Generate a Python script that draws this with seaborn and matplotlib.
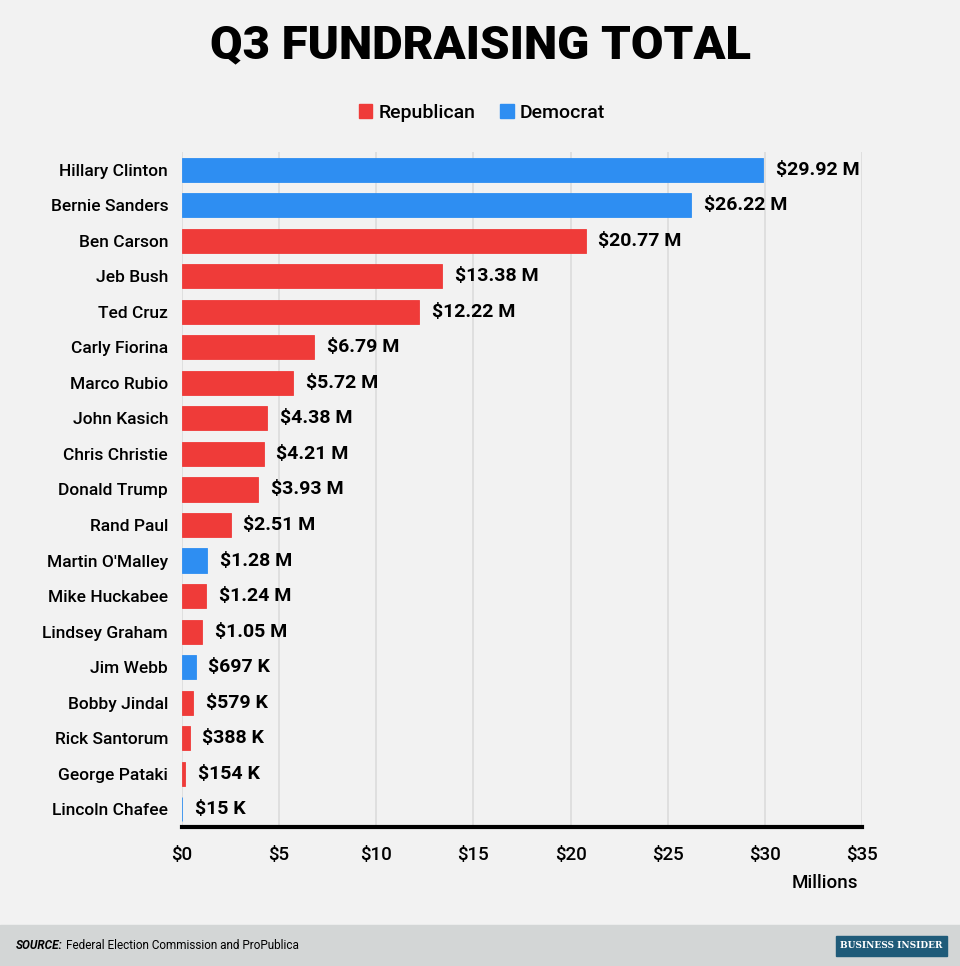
import matplotlib
matplotlib.use('Agg')
import matplotlib.pyplot as plt
import seaborn as sns
import pandas as pd
from matplotlib.patches import Rectangle, Patch

# datos
candidatos = ['Hillary Clinton', 'Bernie Sanders', 'Ben Carson', 'Jeb Bush', 'Ted Cruz',
              'Carly Fiorina', 'Marco Rubio', 'John Kasich', 'Chris Christie', 'Donald Trump',
              'Rand Paul', "Martin O'Malley", 'Mike Huckabee', 'Lindsey Graham', 'Jim Webb',
              'Bobby Jindal', 'Rick Santorum', 'George Pataki', 'Lincoln Chafee']
partido = ['Democrat', 'Democrat', 'Republican', 'Republican', 'Republican',
           'Republican', 'Republican', 'Republican', 'Republican', 'Republican',
           'Republican', 'Democrat', 'Republican', 'Republican', 'Democrat',
           'Republican', 'Republican', 'Republican', 'Democrat']
millones = [29.92, 26.22, 20.77, 13.38, 12.22, 6.79, 5.72, 4.38, 4.21, 3.93,
            2.51, 1.28, 1.24, 1.05, 0.697, 0.579, 0.388, 0.154, 0.015]
etiquetas = ['$29.92 M', '$26.22 M', '$20.77 M', '$13.38 M', '$12.22 M', '$6.79 M',
             '$5.72 M', '$4.38 M', '$4.21 M', '$3.93 M', '$2.51 M', '$1.28 M',
             '$1.24 M', '$1.05 M', '$697 K', '$579 K', '$388 K', '$154 K', '$15 K']
ticks = [0, 5, 10, 15, 20, 25, 30, 35]

df = pd.DataFrame({'Candidato': candidatos, 'Partido': partido, 'Millones': millones})
colores = {'Republican': '#ef3b39', 'Democrat': '#2e8ef2'}

sns.set_style('white')
plt.rcParams['font.family'] = ['Roboto', 'DejaVu Sans']
plt.rcParams['text.color'] = 'black'
plt.rcParams['xtick.color'] = 'black'
plt.rcParams['ytick.color'] = 'black'

fig = plt.figure(figsize=(9.6, 9.66), dpi=100, facecolor='#f2f2f2')
ax = fig.add_axes([0.1896, 0.1439, 0.7083, 0.6988], facecolor='#f2f2f2')

sns.barplot(data=df, x='Millones', y='Candidato', hue='Partido', palette=colores,
            dodge=False, width=0.68, orient='h', legend=False, saturation=1,
            linewidth=0, ax=ax)
for p in ax.patches:
    p.set_edgecolor(p.get_facecolor())
    p.set_linewidth(0.6)

ax.set_xlim(0, 35)
ax.set_ylim(18.5, -0.5)
ax.set_xticks(ticks)
ax.set_xticklabels([f'${t}' for t in ticks], fontsize=13.5, fontweight='medium')
ax.tick_params(axis='x', length=0, pad=14)
ax.tick_params(axis='y', length=0, pad=10)
for lab in ax.get_yticklabels():
    lab.set_fontsize(12.5)
    lab.set_fontweight('medium')
ax.set_xlabel('')
ax.set_ylabel('')
ax.grid(axis='x', color='#dcdcdc', linewidth=1.2)
ax.set_axisbelow(True)
for s in ['top', 'right', 'left']:
    ax.spines[s].set_visible(False)
ax.spines['bottom'].set_color('black')
ax.spines['bottom'].set_linewidth(3)

for i, (v, t) in enumerate(zip(millones, etiquetas)):
    ax.text(v + 0.65, i, t, va='center', ha='left', fontsize=14, fontweight='bold')

ax.text(0.995, -0.083, 'Millions', transform=ax.transAxes, ha='right', va='center',
        fontsize=13.5, fontweight='medium')

fig.text(0.5, 0.953, 'Q3 FUNDRAISING TOTAL', ha='center', va='center',
         fontsize=34, fontweight='black')

handles = [Patch(color=colores['Republican'], label='Republican'),
           Patch(color=colores['Democrat'], label='Democrat')]
leg = fig.legend(handles=handles, loc='center', bbox_to_anchor=(0.502, 0.883), ncol=2,
                 frameon=False, fontsize=14, handlelength=0.7, handleheight=0.7,
                 handletextpad=0.3, columnspacing=1.3)
for t in leg.get_texts():
    t.set_fontweight('medium')

# pie
fig.add_artist(Rectangle((0, 0), 1, 0.0425, transform=fig.transFigure,
                         color='#d3d6d6', zorder=0))
fig.text(0.016, 0.021, 'SOURCE:', ha='left', va='center', fontsize=8.5,
         fontweight='bold', style='italic')
fig.text(0.0685, 0.021, 'Federal Election Commission and ProPublica', ha='left',
         va='center', fontsize=8.5)
fig.add_artist(Rectangle((0.871, 0.0105), 0.115, 0.021, transform=fig.transFigure,
                         color='#1f5b79', zorder=1))
fig.text(0.9285, 0.021, 'BUSINESS INSIDER', ha='center', va='center', fontsize=6.5,
         color='white', family='DejaVu Serif', fontweight='bold', zorder=2)

fig.savefig('out.png', dpi=100, facecolor=fig.get_facecolor())
